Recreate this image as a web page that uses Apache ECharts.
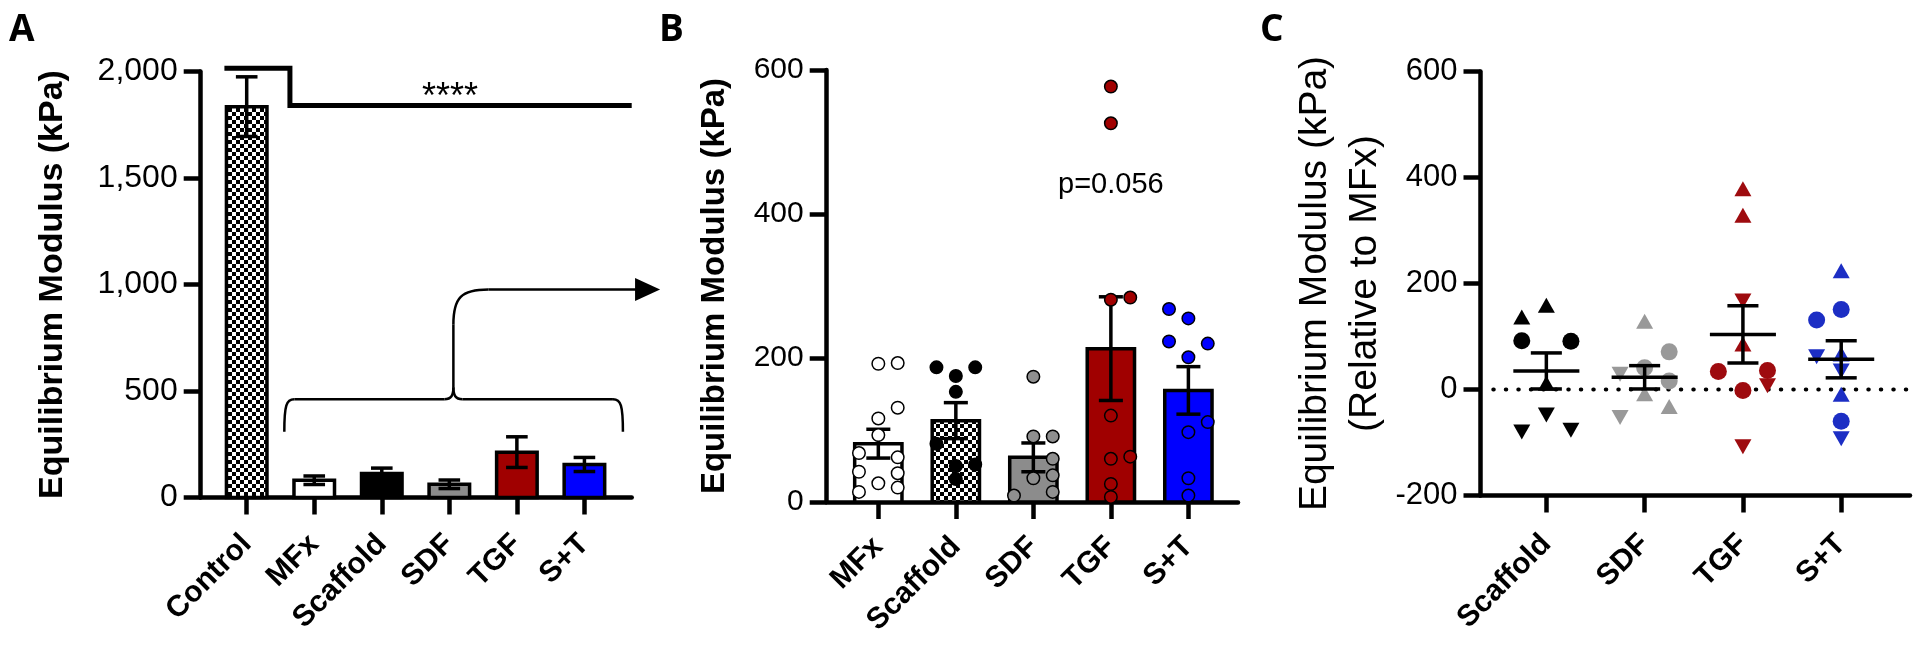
<!DOCTYPE html>
<html><head><meta charset="utf-8">
<script src="https://cdn.jsdelivr.net/npm/echarts@6/dist/echarts.min.js"></script>
<style>html,body{margin:0;padding:0;background:#fff}#c{width:1920px;height:649px}</style>
</head><body><div id="c"></div>
<script>
// ================= DATA =================
// Panel A
const catsA = ['Control', 'MFx', 'Scaffold', 'SDF', 'TGF', 'S+T'];
const meansA = [1835, 81, 113, 62, 213, 155];
const semsA = [140, 20, 25, 20, 72, 33];
const yTicksA = [0, 500, 1000, 1500, 2000];
const sigA = [[-0.33, 2015], [0.64, 2015], [0.64, 1840], [5.70, 1840]];
const sigTextA = {x: 3.01, y: 1875, text: '****'};
const braceA = {x0: 0.557, x1: 5.57, xc: 3.06, yEnd: 309, yMid: 461, yArrow: 977, xTip: 6.12};

// Panel B
const catsB = ['MFx', 'Scaffold', 'SDF', 'TGF', 'S+T'];
const meansB = [81, 113, 62, 213, 155];
const semsB = [20, 25, 20, 72, 33];
const ptsB_MFx = [192, 193, 131, 116, 93, 68, 62, 42, 40, 26, 14, 20];
const colB_MFx = [0, 1, 1, 0, 0, -1, 1, -1, 1, 0, -1, 1];
const ptsB_Scaffold = [187, 187, 175, 153, 81, 50, 52, 32];
const colB_Scaffold = [-1, 1, 0, 0, -1, 0, 1, 0];
const ptsB_SDF = [174, 91, 91, 60, 37, 33, 14, 9];
const colB_SDF = [0, 0, 1, 1, 1, 0, 1, -1];
const ptsB_TGF = [577, 526, 281, 284, 120, 60, 63, 25, 7];
const colB_TGF = [0, 0, 0, 1, 0, 0, 1, 0, 0];
const ptsB_ST = [268, 255, 223, 220, 201, 111, 97, 33, 9];
const colB_ST = [-1, 0, -1, 1, 0, 1, 0, 0, 0];
const pTextB = {x: 3, y: 440, text: 'p=0.056'};

// Panel C
const catsC = ['Scaffold', 'SDF', 'TGF', 'S+T'];
const meansC = [35, 23, 104, 57];
const semsC = [34, 22, 54, 35];
const ptsC_Scaffold = [137, 159, 92, 91, 12, -48, -80, -77];
const shpC_Scaffold = ['u', 'u', 'c', 'c', 'u', 'd', 'd', 'd'];
const colC_Scaffold = [-1, 0, -1, 1, 0, 0, -1, 1];
const ptsC_SDF = [29, 129, 41, 71, 16, -8, -32, -53];
const shpC_SDF = ['d', 'u', 'c', 'c', 'c', 'u', 'u', 'd'];
const colC_SDF = [-1, 0, 0, 1, 1, 0, 1, -1];
const ptsC_TGF = [379, 329, 167, 86, 34, 36, -2, 7, -108];
const shpC_TGF = ['u', 'u', 'd', 'u', 'c', 'c', 'c', 'd', 'd'];
const colC_TGF = [0, 0, 0, 0, -1, 1, 0, 1, 0];
const ptsC_ST = [224, 131, 151, 62, 67, 35, -9, -60, -93];
const shpC_ST = ['u', 'c', 'c', 'd', 'u', 'd', 'u', 'c', 'd'];
const colC_ST = [0, -1, 0, -1, 0, 0, 0, 0, 0];
const zeroLineC = [[-0.54, 0], [3.70, 0]];

// ================= STYLE / LAYOUT =================
const FONT = '"Liberation Sans", Arial, sans-serif';
const BLACK = '#000';
function checker() {
  const c = document.createElement('canvas'); c.width = 8; c.height = 8;
  const g = c.getContext('2d');
  g.fillStyle = '#fff'; g.fillRect(0, 0, 8, 8);
  g.fillStyle = '#000'; g.fillRect(0, 0, 4, 4); g.fillRect(4, 4, 4, 4);
  return c;
}
const CHECK = {image: checker(), repeat: 'repeat'};
const WHITE = '#ffffff', GRAY = '#8c8c8c', RED = '#a00000', BLUE = '#0000ff';
const fillsA = [CHECK, WHITE, BLACK, GRAY, RED, BLUE];
const fillsB = [WHITE, CHECK, GRAY, RED, BLUE];
const ptColorsB = [WHITE, BLACK, '#8f8f8f', RED, BLUE];
const ptColorsC = [BLACK, '#999999', '#9e0b0f', '#1c2ec4'];

const AX_W = 4.5;
function xAxisCfg(gi, min, max, cats, margin) {
  const idx = cats.map((_, i) => i);
  return {
    type: 'value', gridIndex: gi, min: min, max: max, position: 'bottom',
    axisLine: {show: true, onZero: false, lineStyle: {color: BLACK, width: AX_W}},
    splitLine: {show: false},
    axisTick: {show: true, length: 17, customValues: idx, lineStyle: {color: BLACK, width: AX_W}},
    axisLabel: {show: true, customValues: idx, formatter: v => cats[Math.round(v)], rotate: 45,
      margin: margin, color: BLACK, fontFamily: FONT, fontWeight: 'bold', fontSize: 30}
  };
}
function yAxisCfg(gi, min, max, interval, fs, name, nameSize, nameWeight, nameGap, fmt, lineH) {
  return {
    type: 'value', gridIndex: gi, min: min, max: max, interval: interval,
    axisLine: {show: true, onZero: false, lineStyle: {color: BLACK, width: AX_W}},
    axisTick: {show: true, length: 17, lineStyle: {color: BLACK, width: AX_W}},
    splitLine: {show: false},
    axisLabel: {margin: 23, fontSize: fs, color: BLACK, fontFamily: FONT, formatter: fmt},
    name: name, nameLocation: 'middle', nameRotate: 90, nameGap: nameGap,
    nameTextStyle: {fontSize: nameSize, fontWeight: nameWeight, color: BLACK, fontFamily: FONT,
      lineHeight: lineH, align: 'center'}
  };
}
const commaFmt = v => String(v).replace(/\B(?=(\d{3})+(?!\d))/g, ',');

function barSeries(ai, means, sems, fills, w) {
  return {
    type: 'custom', xAxisIndex: ai, yAxisIndex: ai, z: 2, clip: false,
    data: means.map((m, i) => [i, m, sems[i]]),
    renderItem: function (params, api) {
      const i = api.value(0), m = api.value(1);
      const p0 = api.coord([i - w / 2, 0]), p1 = api.coord([i + w / 2, m]);
      return {type: 'rect', shape: {x: p0[0], y: p1[1], width: p1[0] - p0[0], height: p0[1] - p1[1]},
        style: {fill: fills[i], stroke: BLACK, lineWidth: 3.5}};
    }
  };
}
function errSeries(ai, means, sems, capW, meanW, z) {
  return {
    type: 'custom', xAxisIndex: ai, yAxisIndex: ai, z: z, clip: false,
    data: means.map((m, i) => [i, m, sems[i]]),
    renderItem: function (params, api) {
      const i = api.value(0), m = api.value(1), s = api.value(2);
      const top = api.coord([i, m + s]), bot = api.coord([i, m - s]), mid = api.coord([i, m]);
      const cl = api.coord([i - capW / 2, 0])[0], cr = api.coord([i + capW / 2, 0])[0];
      const st = {stroke: BLACK, lineWidth: 3.5};
      const ch = [
        {type: 'line', shape: {x1: top[0], y1: top[1], x2: bot[0], y2: bot[1]}, style: st},
        {type: 'line', shape: {x1: cl, y1: top[1], x2: cr, y2: top[1]}, style: st},
        {type: 'line', shape: {x1: cl, y1: bot[1], x2: cr, y2: bot[1]}, style: st}
      ];
      if (meanW) {
        const ml = api.coord([i - meanW / 2, 0])[0], mr = api.coord([i + meanW / 2, 0])[0];
        ch.push({type: 'line', shape: {x1: ml, y1: mid[1], x2: mr, y2: mid[1]}, style: st});
      }
      return {type: 'group', children: ch};
    }
  };
}
const JIT = 0.25;
function ptSeriesB(gi, vals, cols, color) {
  return {
    type: 'scatter', xAxisIndex: 1, yAxisIndex: 1, z: 4, symbol: 'circle', symbolSize: 12.5,
    itemStyle: {color: color, borderColor: BLACK, borderWidth: 1.5, opacity: 1},
    data: vals.map((v, k) => [gi + cols[k] * JIT, v])
  };
}
function ptSeriesC(gi, vals, shapes, cols, color) {
  return {
    type: 'scatter', xAxisIndex: 2, yAxisIndex: 2, z: 2,
    itemStyle: {color: color, opacity: 1},
    data: vals.map((v, k) => {
      const s = shapes[k];
      return {value: [gi + cols[k] * JIT, v],
        symbol: s === 'c' ? 'circle' : 'triangle',
        symbolSize: s === 'c' ? 17 : [17, 15],
        symbolRotate: s === 'd' ? 180 : 0};
    })
  };
}
function textSeries(ai, t, size) {
  return {
    type: 'custom', xAxisIndex: ai, yAxisIndex: ai, z: 5, clip: false,
    data: [[t.x, t.y]],
    renderItem: function (params, api) {
      const p = api.coord([api.value(0), api.value(1)]);
      return {type: 'text', x: p[0], y: p[1],
        style: {text: t.text, fill: BLACK, fontSize: size, fontFamily: FONT,
          align: 'center', verticalAlign: 'middle', textAlign: 'center', textVerticalAlign: 'middle'}};
    }
  };
}
const braceSeries = {
  type: 'custom', xAxisIndex: 0, yAxisIndex: 0, z: 5, clip: false,
  data: [[braceA.x0, braceA.yEnd]],
  renderItem: function (params, api) {
    const b = braceA;
    const xL = api.coord([b.x0, 0])[0], xR = api.coord([b.x1, 0])[0], xc = api.coord([b.xc, 0])[0];
    const xT = api.coord([b.xTip, 0])[0];
    const yE = api.coord([0, b.yEnd])[1], yM = api.coord([0, b.yMid])[1], yA = api.coord([0, b.yArrow])[1];
    const st = {stroke: BLACK, lineWidth: 2.5, fill: null};
    const R = 35, H = 25;
    return {type: 'group', children: [
      {type: 'bezierCurve', shape: {x1: xL, y1: yE, x2: xL + 10, y2: yM, cpx1: xL, cpy1: yM + 6, cpx2: xL + 2, cpy2: yM}, style: st},
      {type: 'line', shape: {x1: xL + 10, y1: yM, x2: xc - 9, y2: yM}, style: st},
      {type: 'bezierCurve', shape: {x1: xc - 9, y1: yM, x2: xc, y2: yM - 12, cpx1: xc - 2, cpy1: yM, cpx2: xc, cpy2: yM - 4}, style: st},
      {type: 'bezierCurve', shape: {x1: xc + 9, y1: yM, x2: xc, y2: yM - 12, cpx1: xc + 2, cpy1: yM, cpx2: xc, cpy2: yM - 4}, style: st},
      {type: 'line', shape: {x1: xc + 9, y1: yM, x2: xR - 10, y2: yM}, style: st},
      {type: 'bezierCurve', shape: {x1: xR, y1: yE, x2: xR - 10, y2: yM, cpx1: xR, cpy1: yM + 6, cpx2: xR - 2, cpy2: yM}, style: st},
      {type: 'line', shape: {x1: xc, y1: yM - 12, x2: xc, y2: yA + R}, style: st},
      {type: 'bezierCurve', shape: {x1: xc, y1: yA + R, x2: xc + R, y2: yA, cpx1: xc, cpy1: yA + 8, cpx2: xc + 8, cpy2: yA}, style: st},
      {type: 'line', shape: {x1: xc + R, y1: yA, x2: xT - H + 2, y2: yA}, style: st},
      {type: 'polygon', shape: {points: [[xT, yA], [xT - H, yA - 11.5], [xT - H, yA + 11.5]]}, style: {fill: BLACK}}
    ]};
  }
};

const LETTER = {fontSize: 37, fontWeight: 'bold', fontFamily: '"Open Sans", "Noto Sans", sans-serif', fill: BLACK};
const option = {
  animation: false,
  backgroundColor: '#fff',
  grid: [
    {left: 200.7, top: 71.5, width: 431, height: 426, outerBoundsMode: 'none', containLabel: false},
    {left: 826.7, top: 70, width: 411.3, height: 432, outerBoundsMode: 'none', containLabel: false},
    {left: 1480.5, top: 71.5, width: 429.5, height: 424, outerBoundsMode: 'none', containLabel: false}
  ],
  xAxis: [
    xAxisCfg(0, -0.681, 5.70, catsA, 42),
    xAxisCfg(1, -0.666, 4.64, catsB, 40),
    xAxisCfg(2, -0.67, 3.70, catsC, 44)
  ],
  yAxis: [
    yAxisCfg(0, yTicksA[0], yTicksA[yTicksA.length - 1], yTicksA[1] - yTicksA[0], 32,
      'Equilibrium Modulus (kPa)', 34, 'bold', 128, commaFmt, 40),
    yAxisCfg(1, 0, 600, 200, 30, 'Equilibrium Modulus (kPa)', 33, 'bold', 92, null, 40),
    yAxisCfg(2, -200, 600, 200, 31, 'Equilibrium Modulus (kPa)\n(Relative to MFx)', 39, 'normal', 90, null, 50)
  ],
  graphic: [
    {type: 'text', left: 9, top: 12, style: Object.assign({text: 'A'}, LETTER)},
    {type: 'text', left: 659, top: 12, style: Object.assign({text: 'B'}, LETTER)},
    {type: 'text', left: 1260, top: 12, style: Object.assign({text: 'C'}, LETTER)}
  ],
  series: [
    // Panel A
    barSeries(0, meansA, semsA, fillsA, 0.60),
    errSeries(0, meansA, semsA, 0.32, 0, 3),
    {type: 'line', xAxisIndex: 0, yAxisIndex: 0, z: 5, clip: false, symbol: 'none', data: sigA,
      lineStyle: {color: BLACK, width: 5, join: 'miter'}},
    textSeries(0, sigTextA, 36),
    braceSeries,
    // Panel B
    barSeries(1, meansB, semsB, fillsB, 0.61),
    errSeries(1, meansB, semsB, 0.31, 0, 3),
    ptSeriesB(0, ptsB_MFx, colB_MFx, ptColorsB[0]),
    ptSeriesB(1, ptsB_Scaffold, colB_Scaffold, ptColorsB[1]),
    ptSeriesB(2, ptsB_SDF, colB_SDF, ptColorsB[2]),
    ptSeriesB(3, ptsB_TGF, colB_TGF, ptColorsB[3]),
    ptSeriesB(4, ptsB_ST, colB_ST, ptColorsB[4]),
    textSeries(1, pTextB, 29),
    // Panel C
    {type: 'line', xAxisIndex: 2, yAxisIndex: 2, z: 1, clip: false, symbol: 'none', data: zeroLineC,
      lineStyle: {color: BLACK, width: 4, type: [0.5, 12], cap: 'round'}},
    ptSeriesC(0, ptsC_Scaffold, shpC_Scaffold, colC_Scaffold, ptColorsC[0]),
    ptSeriesC(1, ptsC_SDF, shpC_SDF, colC_SDF, ptColorsC[1]),
    ptSeriesC(2, ptsC_TGF, shpC_TGF, colC_TGF, ptColorsC[2]),
    ptSeriesC(3, ptsC_ST, shpC_ST, colC_ST, ptColorsC[3]),
    errSeries(2, meansC, semsC, 0.316, 0.672, 6)
  ]
};
const chart = echarts.init(document.getElementById('c'));
chart.setOption(option);
</script></body></html>
